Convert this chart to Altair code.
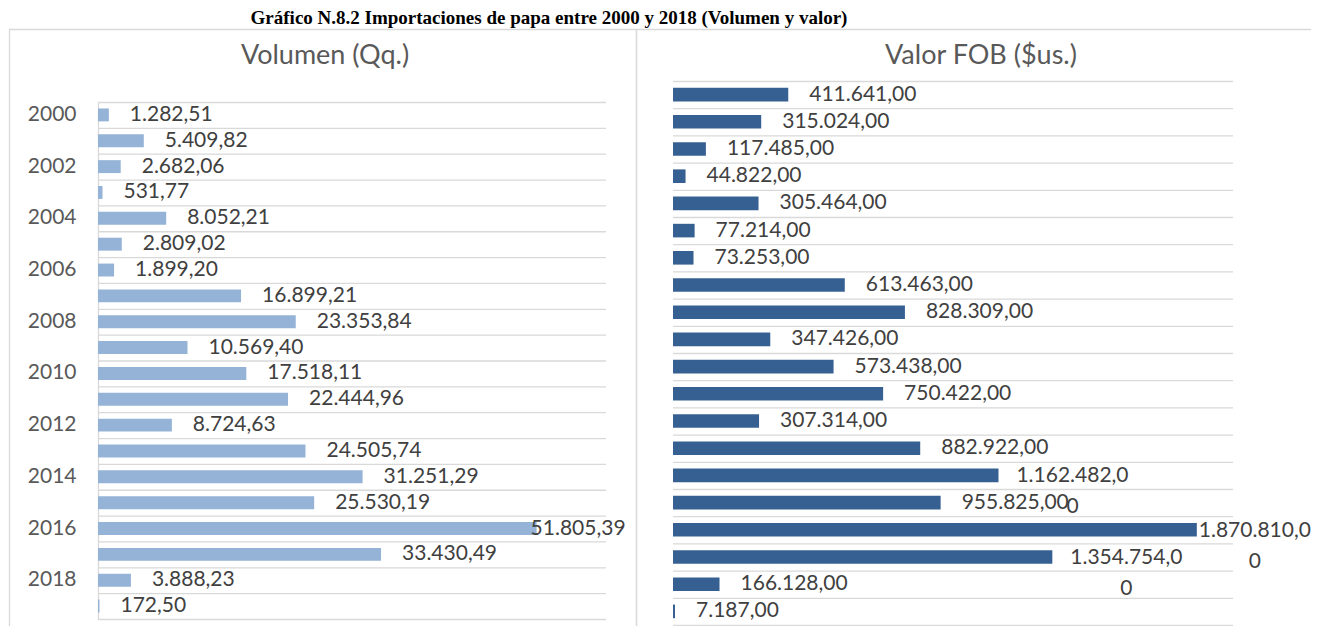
import altair as alt
import pandas as pd

# ---- data ----
years = list(range(2000, 2020))
volumen_qq = [1282.51, 5409.82, 2682.06, 531.77, 8052.21, 2809.02, 1899.20,
              16899.21, 23353.84, 10569.40, 17518.11, 22444.96, 8724.63,
              24505.74, 31251.29, 25530.19, 51805.39, 33430.49, 3888.23, 172.50]
valor_fob = [411641, 315024, 117485, 44822, 305464, 77214, 73253, 613463,
             828309, 347426, 573438, 750422, 307314, 882922, 1162482, 955825,
             1870810, 1354754, 166128, 7187]
year_ticks = years[::2]
panel_titles = ["Volumen (Qq.)", "Valor FOB ($us.)"]
main_title = ["Gráfico N.8.2 Importaciones de papa entre 2000 y 2018 (Volumen y valor)"]


def fmt(v):
    s = f"{v:,.2f}"
    return s.replace(",", "X").replace(".", ",").replace("X", ".")


left_df = pd.DataFrame({"year": years, "v": volumen_qq,
                        "label": [fmt(v) for v in volumen_qq]})
right_labels = [fmt(v) for v in valor_fob]
right_df = pd.DataFrame({"year": years, "v": valor_fob, "label": right_labels,
                         "wrapped": [s[:-1] + "\n" + s[-1] for s in right_labels]})
bounds = years + [years[-1] + 1]
grid_df = pd.DataFrame({"b": bounds})

FONT = "Lato"
LBL = "#404040"
GRID = "#d9d9d9"

# ---- scales ----
xL = alt.Scale(domain=[0, 60000], range=[0, 508])
yL = alt.Scale(domain=years, range=[21, 538], paddingInner=0.5, paddingOuter=0.25)
xR = alt.Scale(domain=[0, 2000000], range=[575, 1135])
yR = alt.Scale(domain=years, range=[0, 544], paddingInner=0.5, paddingOuter=0.25)
gL = alt.Scale(domain=[years[0], years[-1] + 1], range=[21.5, 538.5])
gR = alt.Scale(domain=[years[0], years[-1] + 1], range=[0.5, 544.5])

# ---- grid lines ----
grid_left = alt.Chart(grid_df).mark_rule(color=GRID, strokeWidth=1.3).encode(
    y=alt.Y("b:Q", scale=gL, axis=None),
    x=alt.value(0), x2=alt.value(508))
grid_right = alt.Chart(grid_df).mark_rule(color=GRID, strokeWidth=1.3).encode(
    y=alt.Y("b:Q", scale=gR, axis=None),
    x=alt.value(575), x2=alt.value(1135))

# ---- left panel ----
base_l = alt.Chart(left_df).encode(
    y=alt.Y("year:O", scale=yL,
            axis=alt.Axis(title=None, orient="left", values=year_ticks, ticks=False,
                          labelPadding=22, labelFont=FONT, labelFontSize=21,
                          labelColor="#595959", domainColor=GRID, domainWidth=1.3,
                          grid=False)),
    x=alt.X("v:Q", scale=xL, axis=None))
bars_l = base_l.mark_bar(color="#95b3d7")
txt_l = base_l.transform_filter("datum.v < 45000").mark_text(
    align="left", baseline="middle", dx=21, font=FONT, fontSize=21, color=LBL
).encode(text="label:N")
txt_l2 = base_l.transform_filter("datum.v >= 45000").mark_text(
    align="left", baseline="middle", dx=-6, font=FONT, fontSize=21, color=LBL
).encode(text="label:N")
left = alt.layer(bars_l, txt_l, txt_l2)

# ---- right panel ----
base_r = alt.Chart(right_df).encode(
    y=alt.Y("year:O", scale=yR, axis=None),
    x=alt.X("v:Q", scale=xR, axis=None))
bars_r = base_r.mark_bar(color="#366092")
txt_r = base_r.transform_filter("datum.v < 1000000").mark_text(
    align="left", baseline="middle", dx=21, font=FONT, fontSize=21, color=LBL
).encode(text="label:N")
txt_r2 = base_r.transform_filter("datum.v >= 1000000 && datum.v < 1800000").mark_text(
    align="center", baseline="top", dx=74, dy=-10, lineBreak="\n", lineHeight=31,
    font=FONT, fontSize=21, color=LBL
).encode(text="wrapped:N")
txt_r3 = base_r.transform_filter("datum.v >= 1800000").mark_text(
    align="center", baseline="top", dx=58, dy=-10, lineBreak="\n", lineHeight=31,
    font=FONT, fontSize=21, color=LBL
).encode(text="wrapped:N")
right = alt.layer(bars_r, txt_r, txt_r2, txt_r3)

# ---- frames & titles ----
one = pd.DataFrame({"k": [0]})
frame_l = alt.Chart(one).mark_rect(fillOpacity=0, stroke=GRID, strokeWidth=1.3).encode(
    x=alt.value(-88.5), x2=alt.value(538.5), y=alt.value(-51.5), y2=alt.value(620))
frame_r = alt.Chart(one).mark_rect(fillOpacity=0, stroke=GRID, strokeWidth=1.3).encode(
    x=alt.value(538.5), x2=alt.value(1300), y=alt.value(-51.5), y2=alt.value(620))
t_left = alt.Chart(pd.DataFrame({"t": panel_titles[:1]})).mark_text(
    align="center", baseline="middle", font=FONT, fontSize=27, color="#595959"
).encode(text="t:N", x=alt.value(227), y=alt.value(-25))
t_right = alt.Chart(pd.DataFrame({"t": panel_titles[1:]})).mark_text(
    align="center", baseline="middle", font=FONT, fontSize=27, color="#595959"
).encode(text="t:N", x=alt.value(883), y=alt.value(-25))
t_main = alt.Chart(pd.DataFrame({"t": main_title})).mark_text(
    align="center", baseline="alphabetic", font="Liberation Serif", fontSize=19,
    fontWeight="bold", color="#000000"
).encode(text="t:N", x=alt.value(451), y=alt.value(-57))

chart = alt.layer(
    frame_l, frame_r, t_main, t_left, t_right, grid_left, grid_right, left, right
).resolve_scale(x="independent", y="independent").properties(
    width=1135, height=545,
    autosize=alt.AutoSizeParams(type="none"),
    padding={"left": 90, "top": 73, "right": 78, "bottom": 0},
    background="white",
).configure_view(stroke=None)

chart.save("out.html", embed_options={"renderer": "svg", "actions": False})
